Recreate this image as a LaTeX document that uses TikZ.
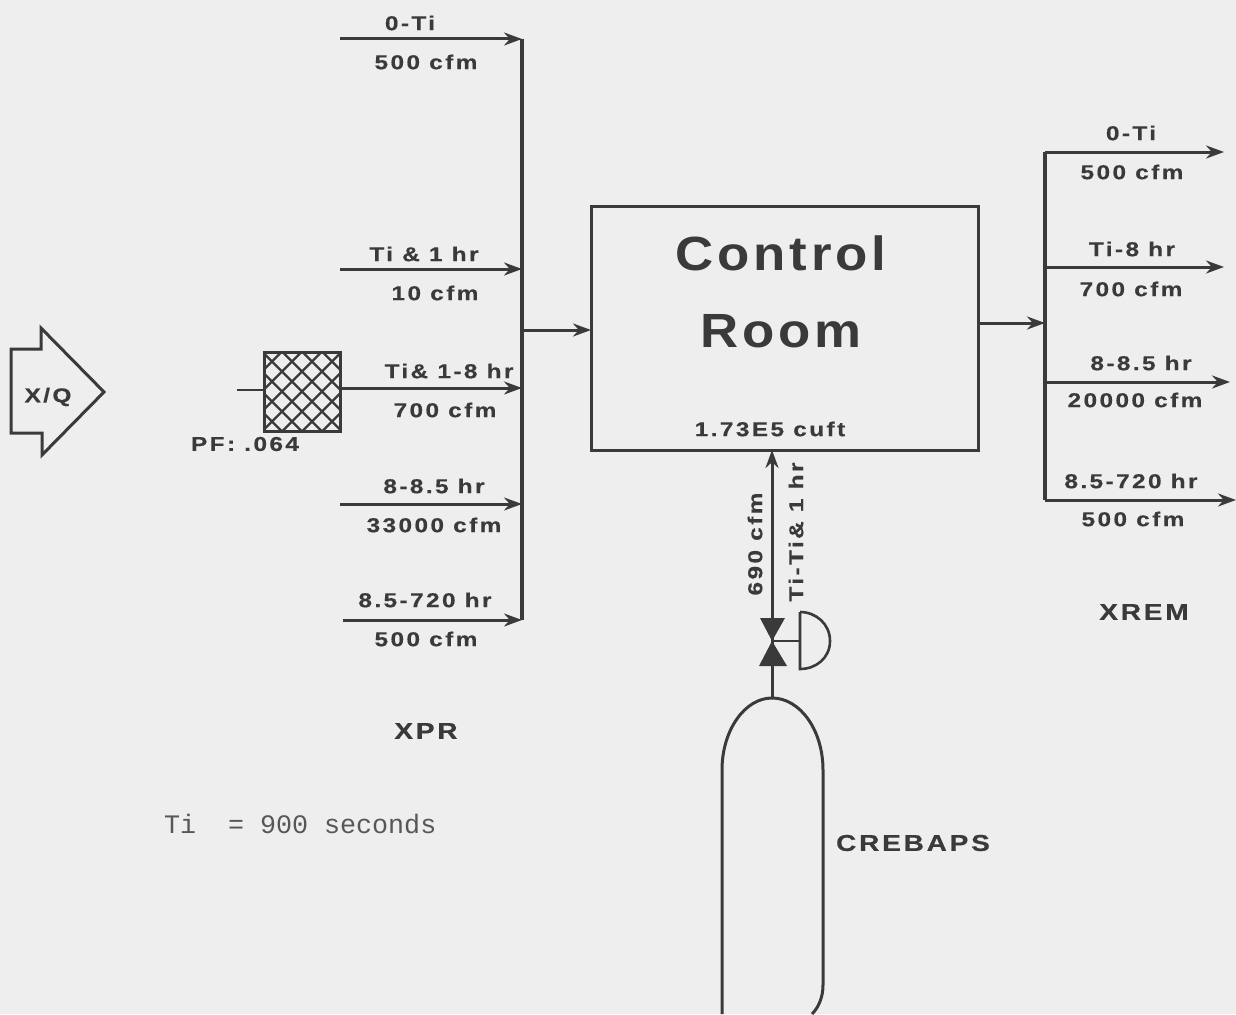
\documentclass[tikz,border=0pt]{standalone}
\usepackage{fontspec}
\setmainfont{Liberation Sans}
\newfontfamily\lblfont[LetterSpace=12,FakeBold=0.5,FakeStretch=1.22]{Liberation Sans Bold}
\newfontfamily\headfont[LetterSpace=12,FakeBold=0.5,FakeStretch=1.22]{Liberation Sans Bold}
\newfontfamily\bigfont[LetterSpace=8,FakeStretch=1.1]{Liberation Sans Bold}
\newfontfamily\thinfont{Liberation Mono}
\usetikzlibrary{arrows.meta}
\definecolor{paper}{HTML}{EEEEEE}
\definecolor{ink}{HTML}{3A3A3A}
\tikzset{
  x=1pt,y=-1pt,
  every node/.style={text=ink,inner sep=0pt,outer sep=0pt},
  flow/.style={draw=ink,line width=3pt,-{Stealth[length=18pt,width=13pt]}},
  wire/.style={draw=ink,line width=3.2pt},
  box/.style={draw=ink,line width=3pt},
  txt/.style={font=\lblfont\fontsize{20}{20}\selectfont},
  head/.style={font=\headfont\fontsize{23}{23}\selectfont},
  big/.style={font=\bigfont\fontsize{48}{48}\selectfont},
  note/.style={font=\thinfont\fontsize{26.7}{26.7}\selectfont,text=ink!85},
}
\begin{document}
\begin{tikzpicture}
\useasboundingbox[fill=paper] (0,0) rectangle (1236,1014);

% Control room
\node[box,minimum width=387pt,minimum height=244pt,anchor=north west] (room) at (591,206) {};
\node[big] (t1) at (781,253) {Control};
\node[big] (t2) at (781,331) {Room};
\node[txt] (vol) at (770,429) {1.73E5 cuft};

% inlet bus
\coordinate (inT) at (522,39);
\coordinate (in2) at (522,269);
\coordinate (in3) at (522,388);
\coordinate (in4) at (522,504);
\coordinate (inB) at (522,620);
\coordinate (inM) at (522,330);
\coordinate (rmI) at (591,330);
\draw[wire] (inT) -- (inB);
\coordinate (s1) at (340,39);
\coordinate (s2) at (340,269);
\coordinate (s4) at (340,504);
\coordinate (s5) at (343,620);
\draw[flow] (s1) -- (inT);
\draw[flow] (s2) -- (in2);
\draw[flow] (s4) -- (in4);
\draw[flow] (s5) -- (inB);
\draw[flow] (inM) -- (rmI);

% filter
\node[box,anchor=north west,minimum width=76pt,minimum height=79pt,
  path picture={
    \foreach \k in {-100,-80,...,100}{
      \draw[ink,line width=2.4pt] (\k-50,-50) -- ++(100,100);
      \draw[ink,line width=2.4pt] (\k+50,-50) -- ++(-100,100);
    }
  }] (filter) at (264,352) {};
\coordinate (fin) at (237,390);
\draw[wire,line width=2.4pt] (fin) -- (filter.west|-fin);
\draw[flow] (filter.east|-in3) -- (in3);

% X/Q arrow
\draw[box,line join=miter] (11,349) -- (41,349) -- (41,328) -- (104,392) -- (42,455) -- (42,433) -- (11,433) -- cycle;
\node[txt] (xq) at (48,397) {X/Q};
\node[txt] (pf) at (245,444) {PF: .064};

% inlet labels
\node[txt] (a1) at (410,23) {0-Ti};
\node[txt] (a2) at (426,62) {500 cfm};
\node[txt] (b1) at (424,254) {Ti \& 1 hr};
\node[txt] (b2) at (435,293) {10 cfm};
\node[txt] (c1) at (449,371) {Ti\& 1-8 hr};
\node[txt] (c2) at (445,410) {700 cfm};
\node[txt] (d1) at (434,486) {8-8.5 hr};
\node[txt] (d2) at (434,525) {33000 cfm};
\node[txt] (e1) at (425,600) {8.5-720 hr};
\node[txt] (e2) at (426,639) {500 cfm};
\node[head] (xpr) at (426,731) {XPR};
\node[note,anchor=west] (ti) at (164,824) {Ti\hspace{32pt}= 900 seconds};

% outlet bus
\coordinate (rmO) at (978,323);
\coordinate (ouM) at (1045,323);
\coordinate (ou1) at (1045,152);
\coordinate (ou2) at (1045,267);
\coordinate (ou3) at (1045,382);
\coordinate (ou4) at (1045,500);
\draw[wire] (ou1) -- (ou4);
\draw[flow] (rmO) -- (ouM);
\coordinate (z1) at (1224,152);
\coordinate (z2) at (1224,267);
\coordinate (z3) at (1230,382);
\coordinate (z4) at (1236,500);
\draw[flow] (ou1) -- (z1);
\draw[flow] (ou2) -- (z2);
\draw[flow] (ou3) -- (z3);
\draw[flow] (ou4) -- (z4);
\node[txt] (f1) at (1131,133) {0-Ti};
\node[txt] (f2) at (1132,172) {500 cfm};
\node[txt] (g1) at (1132,249) {Ti-8 hr};
\node[txt] (g2) at (1131,289) {700 cfm};
\node[txt] (h1) at (1141,363) {8-8.5 hr};
\node[txt] (h2) at (1135,400) {20000 cfm};
\node[txt] (i1) at (1131,481) {8.5-720 hr};
\node[txt] (i2) at (1133,519) {500 cfm};
\node[head] (xrem) at (1144,612) {XREM};

% valve and tank
\coordinate (vc) at (772,641);
\coordinate (tt) at (772,698);
\coordinate (rb) at (772,450);
\fill[ink] (760,618) -- (785,618) -- (vc) -- cycle;
\fill[ink] (759,666) -- (787,666) -- (vc) -- cycle;
\draw[flow] (tt) -- (rb);
\coordinate (act) at (800,641);
\draw[wire,line width=2.4pt] (vc) -- (act);
\draw[box,line width=2.6pt] (800,612) -- (800,669) .. controls (816,669) and (830,658) .. (830,641) .. controls (830,624) and (816,612) .. (800,612);
\draw[box] (722,1014) -- (722,770) .. controls (722,730) and (745,698) .. (tt) .. controls (800,698) and (823,730) .. (823,770) -- (823,985) .. controls (823,998) and (818,1008) .. (812,1014);
\node[head] (cb) at (913,843) {CREBAPS};
\node[txt,rotate=90] (r1) at (755,544) {690 cfm};
\node[txt,rotate=90] (r2) at (796,532) {Ti-Ti\& 1 hr};
\end{tikzpicture}
\end{document}
